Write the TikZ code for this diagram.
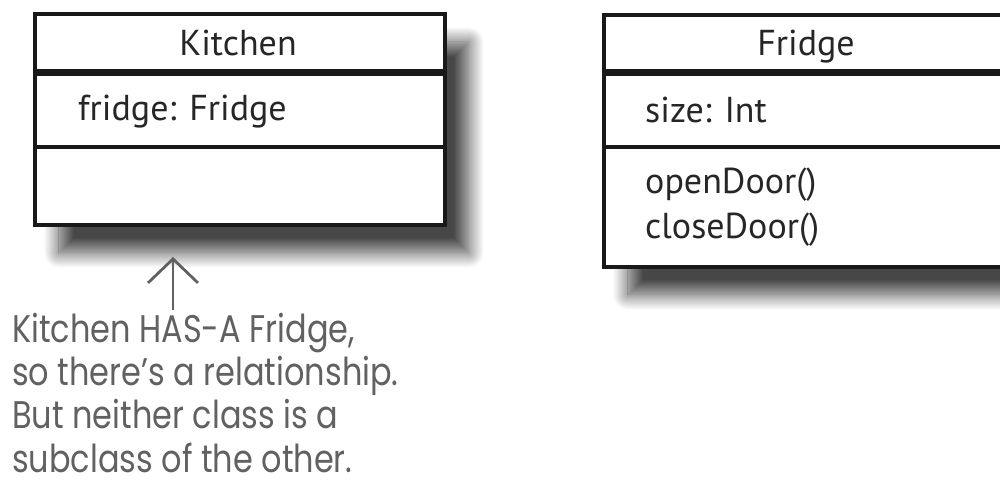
\documentclass[tikz,border=0pt]{standalone}
\usepackage{fontspec}
\setmainfont{PT Sans}
\newfontfamily\handfont[FakeStretch=0.83]{Poppins}
\usetikzlibrary{shadows.blur,arrows.meta}
\begin{document}
\begin{tikzpicture}[x=1pt,y=-1pt,
  umlbox/.style={draw=black!90, line width=3.8pt, fill=white, minimum width=410pt,
    inner sep=0pt, anchor=north west,
    blur shadow={shadow xshift=24pt, shadow yshift=-28pt, shadow blur radius=15pt, shadow blur steps=20, shadow opacity=72}},
  umltext/.style={font=\fontsize{36}{42}\selectfont, text=black!85, inner sep=0pt},
  handtext/.style={font=\handfont\fontsize{38.5}{45}\selectfont, text=black!62, inner sep=0pt, anchor=base west},
  septhick/.style={draw=black!90, line width=7pt},
  septhin/.style={draw=black!90, line width=3.8pt},
  notearrow/.style={draw=black!62, line width=2.8pt, -{Straight Barb[length=24pt,width=50pt,line width=2.8pt]}}]
\useasboundingbox (0,0) rectangle (1000,498);
\clip (0,0) rectangle (1000,498);
% Kitchen class
\node[umlbox, minimum height=211pt] (kitchen) at (33,12) {};
\draw[septhick] (kitchen.west |- 0,72) -- (kitchen.east |- 0,72);
\draw[septhin] (kitchen.west |- 0,147) -- (kitchen.east |- 0,147);
\node[umltext, anchor=base] (kname) at (238,55) {Kitchen};
\node[umltext, anchor=base west] (kattr) at (78,120) {fridge: Fridge};
% Fridge class
\node[umlbox, minimum height=252pt] (fridge) at (602,13) {};
\draw[septhick] (fridge.west |- 0,72) -- (fridge.east |- 0,72);
\draw[septhin] (fridge.west |- 0,147) -- (fridge.east |- 0,147);
\node[umltext, anchor=base] (fname) at (806,55) {Fridge};
\node[umltext, anchor=base west] (fattr) at (645,122) {size: Int};
\node[umltext, anchor=base west] (fop1) at (645,193) {openDoor()};
\node[umltext, anchor=base west] (fop2) at (645,238) {closeDoor()};
% Note
\node[handtext] (n1) at (12,342) {Kitchen HAS-A Fridge,};
\node[handtext] (n2) at (12,385) {so there’s a relationship.};
\node[handtext] (n3) at (12,428) {But neither class is a};
\node[handtext] (n4) at (12,472) {subclass of the other.};
\coordinate (tip) at (173,257);
\draw[notearrow] ([yshift=3pt]n1.north -| tip) -- (tip);
\end{tikzpicture}
\end{document}
